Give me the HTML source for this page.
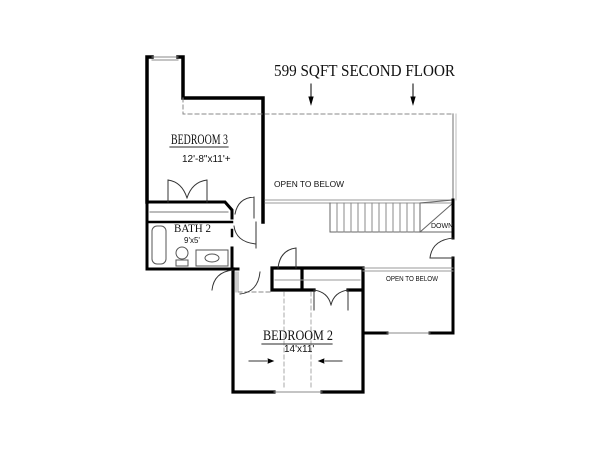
<!DOCTYPE html>
<html><head><style>
html,body{margin:0;padding:0;background:#fff;width:600px;height:450px;overflow:hidden}
svg text{font-family:"Liberation Sans",sans-serif;fill:#111}
</style></head><body>
<svg width="600" height="450" viewBox="0 0 600 450" xmlns="http://www.w3.org/2000/svg">
<g fill="none" stroke="#000" stroke-linecap="square">
<path d="M147 202 V57 H152 M178 57 H183 V98 H263 V222" stroke-width="3.5"/>
<path d="M152 57 H178 M152 60 H178" stroke="#888" stroke-width="1"/>
<path d="M183 98 V114 H453" stroke="#888" stroke-width="1" stroke-dasharray="4,3"/>
<path d="M453 114 V200" stroke="#888" stroke-width="1.2"/>
<path d="M456 114 V200" stroke="#bbb" stroke-width="1"/>
<path d="M147 202 H225 L232 210 V218" stroke-width="3"/>
<path d="M147 222 H232 M232 236 V230" stroke-width="2.5"/>
<path d="M147 202 V269 H238" stroke-width="3"/>
<path d="M232 248 V269" stroke-width="3"/>
<path d="M150 212 H228" stroke="#777" stroke-width="1"/>
<path d="M168 202 V180 M207 202 V180 M168 180 Q182 182 187 198 M207 180 Q192 182 187 198" stroke="#333" stroke-width="1"/>
<path d="M234 226 Q236 242 256 244 M256 222 V248" stroke="#333" stroke-width="1"/>
<rect x="152" y="226" width="14" height="38" rx="5" stroke="#555" stroke-width="1"/>
<circle cx="182" cy="253" r="6" stroke="#555" stroke-width="1"/>
<rect x="176" y="260" width="12" height="6" stroke="#555" stroke-width="1"/>
<rect x="196" y="250" width="32" height="16" stroke="#555" stroke-width="1"/>
<ellipse cx="212" cy="258" rx="7" ry="4" stroke="#555" stroke-width="1"/>
<path d="M235 214 Q238 198 254 197 M254 197 V218" stroke="#333" stroke-width="1"/>
<path d="M265 200 H453 M265 203 H453" stroke="#999" stroke-width="1"/>
<path d="M330 203 V232 H420 V203 L453 200 M420 232 L453 203 M420 232 H453" stroke="#666" stroke-width="1"/>
<path d="M337 203V232M344 203V232M351 203V232M358 203V232M365 203V232M372 203V232M379 203V232M386 203V232M393 203V232M400 203V232M407 203V232M414 203V232" stroke="#888" stroke-width="1"/>
<path d="M453 200 V238 M453 258 V333" stroke-width="3"/>
<path d="M453 238 Q432 240 430 258 H453" stroke="#333" stroke-width="1"/>
<path d="M233 269 V392 H274 M322 392 H363 V268 H272 V290 H314 M348 290 H363 M302 268 V290" stroke-width="3.2"/>
<path d="M274 392 H322" stroke="#888" stroke-width="1"/>
<path d="M275 280 H360" stroke="#999" stroke-width="1"/>
<path d="M238 292 H272" stroke="#888" stroke-width="1" stroke-dasharray="4,3"/>
<path d="M284 292 V390 M311 292 V390" stroke="#aaa" stroke-width="1" stroke-dasharray="4,3"/>
<path d="M236 272 V292 M238 272 V292" stroke="#999" stroke-width="1"/>
<path d="M233 270 Q214 272 212 290" stroke="#333" stroke-width="1"/>
<path d="M240 294 Q258 292 260 272" stroke="#333" stroke-width="1"/>
<path d="M278 268 Q280 250 296 248 V268" stroke="#333" stroke-width="1"/>
<path d="M314 290 V310 M348 290 V310 M314 290 Q328 292 331 305 M348 290 Q334 292 331 305" stroke="#333" stroke-width="1"/>
<path d="M249 361 H272 M320 361 H342" stroke="#333" stroke-width="1"/>
<path d="M268 359 L273 361 L268 363 M324 359 L319 361 L324 363" fill="#000" stroke-width="1"/>
<path d="M363 268 H453 M363 271 H453" stroke="#999" stroke-width="1"/>
<path d="M363 333 H387 M430 333 H453" stroke-width="3"/>
<path d="M387 333 H430" stroke="#888" stroke-width="1"/>
<path d="M311 84 V102 M413 84 V102" stroke-width="1"/>
<path d="M309 97 L311 104 L313 97 Z M411 97 L413 104 L415 97 Z" fill="#000" stroke-width="1"/>
<path d="M170 147 H228 M262 344 H332" stroke="#555" stroke-width="1.2"/>
</g>
<text x="274" y="76" style="font-family:'Liberation Serif',serif" font-size="17" textLength="181" lengthAdjust="spacingAndGlyphs">599 SQFT SECOND FLOOR</text>
<text x="171" y="144" style="font-family:'Liberation Serif',serif" font-size="15" textLength="57" lengthAdjust="spacingAndGlyphs">BEDROOM 3</text>
<text x="182" y="162" font-size="10">12'-8"x11'+</text>
<text x="274" y="187" font-size="8" textLength="70" lengthAdjust="spacingAndGlyphs">OPEN TO BELOW</text>
<text x="174" y="232" style="font-family:'Liberation Serif',serif" font-size="12" textLength="37" lengthAdjust="spacingAndGlyphs">BATH 2</text>
<text x="184" y="243" font-size="8">9'x5'</text>
<text x="431" y="228" font-size="7">DOWN</text>
<text x="386" y="281" font-size="7" textLength="52" lengthAdjust="spacingAndGlyphs">OPEN TO BELOW</text>
<text x="263" y="340" style="font-family:'Liberation Serif',serif" font-size="15" textLength="70" lengthAdjust="spacingAndGlyphs">BEDROOM 2</text>
<text x="284" y="352" font-size="10">14'x11'</text>
</svg>
</body></html>
